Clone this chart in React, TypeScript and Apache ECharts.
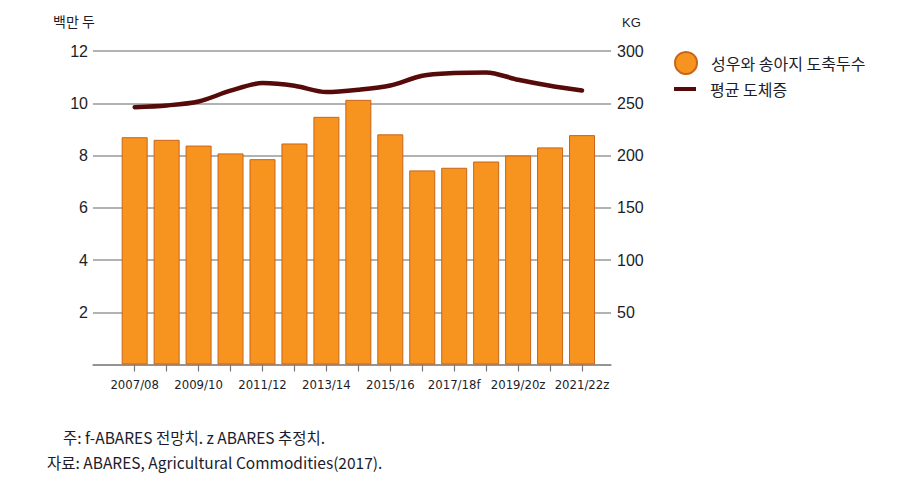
import React, { useEffect, useRef } from "react";
import * as echarts from "echarts";

const categories = [
  "2007/08", "2008/09", "2009/10", "2010/11", "2011/12", "2012/13", "2013/14", "2014/15",
  "2015/16", "2016/17", "2017/18f", "2018/19z", "2019/20z", "2020/21z", "2021/22z",
];
const slaughterMillion = [8.7, 8.6, 8.38, 8.08, 7.86, 8.46, 9.48, 10.13, 8.81, 7.43, 7.53, 7.77, 8.0, 8.31, 8.78];
const avgCarcassKg = [246.2, 247.9, 251.7, 262.0, 269.3, 266.8, 260.7, 262.9, 267.0, 276.3, 278.9, 279.5, 272.5, 266.8, 262.3];
const leftTicks = { min: 0, max: 12, interval: 2 };
const rightTicks = { min: 0, max: 300, interval: 50 };
const barName = "성우와 송아지 도축두수";
const lineName = "평균 도체증";
const leftUnit = "백만 두";
const rightUnit = "KG";
const note1 = "주: f-ABARES 전망치. z ABARES 추정치.";
const note2 = "자료: ABARES, Agricultural Commodities(2017).";

const KR = '"Noto Sans CJK KR", "Noto Sans", sans-serif';
const NUM = '"Liberation Sans", Arial, sans-serif';
const NARROW = '"DejaVu Sans Condensed", "Liberation Sans Narrow", "Liberation Sans", sans-serif';
const TXT = "#1c1c2a";

export default function App() {
  const ref = useRef<HTMLDivElement>(null);
  useEffect(() => {
    if (!ref.current) return;
    const chart = echarts.init(ref.current, undefined, { renderer: "svg" });
    const top = 51;
    const bottom = 139.5;
    chart.setOption({
      animation: false,
      backgroundColor: "#ffffff",
      grid: [
        { left: 93, right: 295, top, bottom },
        { left: 118.7, right: 308, top, bottom },
      ],
      xAxis: [
        {
          type: "value",
          gridIndex: 0,
          min: 0,
          max: 1,
          axisLine: { show: true, lineStyle: { color: "#8a8a8a", width: 1.5 } },
          axisTick: { show: false },
          axisLabel: { show: false },
          splitLine: { show: false },
        },
        {
          type: "category",
          gridIndex: 1,
          data: categories,
          boundaryGap: true,
          axisLine: { show: false },
          axisTick: { show: true, alignWithLabel: true, interval: 0, length: 7, lineStyle: { color: "#777", width: 1.2 } },
          axisLabel: { interval: 1, margin: 13, fontFamily: NARROW, fontSize: 13, color: TXT },
        },
      ],
      yAxis: [
        {
          type: "value",
          gridIndex: 0,
          ...leftTicks,
          position: "left",
          axisLine: { show: false },
          axisTick: { show: false },
          axisLabel: {
            margin: 5,
            fontFamily: NUM,
            fontSize: 16,
            color: TXT,
            formatter: (v: number) => (v === 0 ? "" : String(v)),
          },
          splitLine: { show: true, lineStyle: { color: "#999", width: 1.5 } },
        },
        {
          type: "value",
          gridIndex: 0,
          ...rightTicks,
          position: "right",
          axisLine: { show: false },
          axisTick: { show: false },
          axisLabel: {
            margin: 6,
            fontFamily: NUM,
            fontSize: 16,
            color: TXT,
            formatter: (v: number) => (v === 0 ? "" : String(v)),
          },
          splitLine: { show: false },
        },
        { type: "value", gridIndex: 1, ...leftTicks, show: false, position: "left" },
        { type: "value", gridIndex: 1, ...rightTicks, show: false, position: "right" },
      ],
      legend: [
        {
          data: [barName],
          left: 674,
          top: 51,
          padding: 0,
          icon: "circle",
          itemWidth: 22,
          itemHeight: 22,
          textStyle: { fontFamily: KR, fontSize: 16, color: TXT, padding: [0, 0, 0, 9] },
        },
        {
          data: [{ name: lineName, icon: "rect", itemStyle: { color: "#560a0a" } }],
          left: 674,
          top: 81,
          padding: 0,
          itemWidth: 22,
          itemHeight: 4,
          textStyle: { fontFamily: KR, fontSize: 16, color: TXT, padding: [0, 0, 0, 9] },
        },
      ],
      series: [
        {
          name: barName,
          type: "bar",
          xAxisIndex: 1,
          yAxisIndex: 2,
          data: slaughterMillion,
          barWidth: 26,
          itemStyle: { color: "#F7931F", borderColor: "#C9651A", borderWidth: 1 },
        },
        {
          name: lineName,
          type: "line",
          xAxisIndex: 1,
          yAxisIndex: 3,
          data: avgCarcassKg,
          smooth: 0.3,
          showSymbol: false,
          symbol: "none",
          lineStyle: { color: "#560a0a", width: 4.5, cap: "round", join: "round" },
          itemStyle: { color: "#560a0a" },
          z: 5,
        },
      ],
      graphic: [
        {
          type: "text",
          x: 53,
          y: 21,
          style: { text: leftUnit, fontFamily: KR, fontSize: 14, fill: TXT, verticalAlign: "middle", align: "left" },
        },
        {
          type: "text",
          x: 622,
          y: 22,
          style: { text: rightUnit, fontFamily: NUM, fontSize: 13, fill: TXT, verticalAlign: "middle", align: "left" },
        },
        {
          type: "text",
          x: 63,
          y: 437,
          style: { text: note1, fontFamily: KR, fontSize: 15.5, fill: TXT, verticalAlign: "middle", align: "left" },
        },
        {
          type: "text",
          x: 47,
          y: 462,
          style: { text: note2, fontFamily: KR, fontSize: 15.5, fill: TXT, verticalAlign: "middle", align: "left" },
        },
      ],
    });
    return () => chart.dispose();
  }, []);
  return <div ref={ref} style={{ position: "fixed", left: 0, top: 0, width: 906, height: 504 }} />;
}
